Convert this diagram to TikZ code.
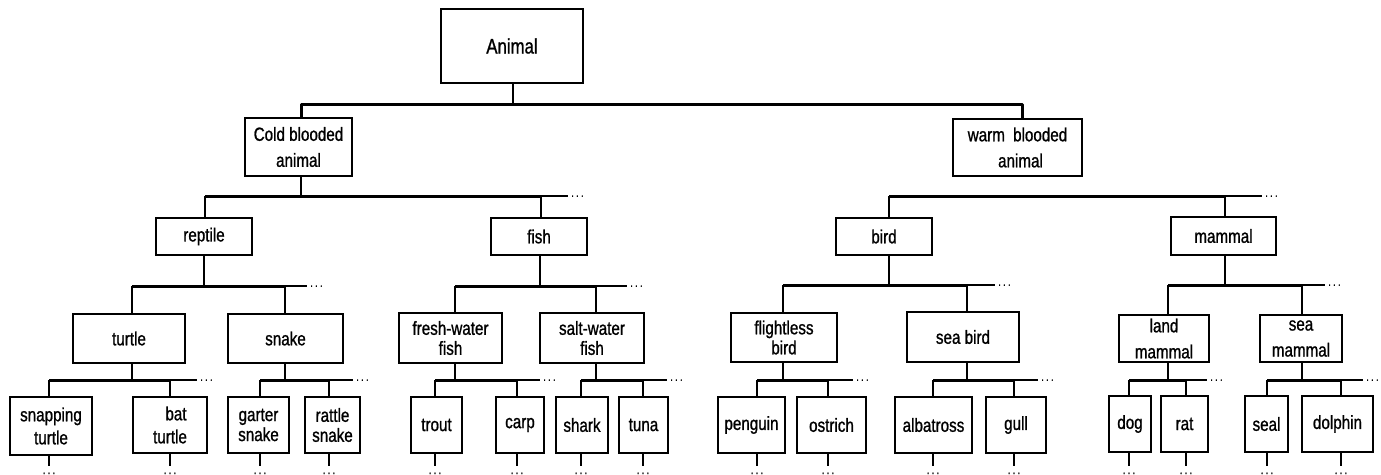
\documentclass[tikz,border=0pt]{standalone}
\usepackage{fontspec}
\setmainfont[FakeStretch=0.8,FakeBold=1]{Liberation Sans}

% box given by its corners (x1,y1) and (x2,y2), in pixels
\newcommand\mkbox[7][]{%
  \node[box,#1,minimum width={(#5-#3)*1pt},minimum height={(#6-#4)*1pt}]
    (#2) at ({(#3+#5)/2},{(#4+#6)/2}) {#7};}

% the "more siblings" mark
\newcommand\moremark{.\hspace{2.2pt}.\hspace{2.2pt}.}

% parent stem, thick bus, thin tail and trailing dots
% #1 parent, #2 stem x, #3 bus y, #4 bus left, #5 bus right, #6 tail end, #7 name
\newcommand\branch[7]{%
  \coordinate (#7-l) at (#4,#3);
  \coordinate (#7-r) at (#5,#3);
  \coordinate (#7-t) at (#6,#3);
  \coordinate (#7-s) at (#2,#3);
  \draw[stem] (#2,0 |- #1.south) -- (#7-s);
  \draw[bus] (#7-l) -- (#7-r);
  \draw[tail] (#7-r) -- (#7-t);
  \node[more,anchor=base west] (#7-dots) at ([xshift=3pt,yshift=-0.8pt]#7-t) {\moremark};}

% child stem from a bus down to the top of a box: #1 child, #2 x, #3 bus y
\newcommand\drop[3]{\draw[stem] (#2,#3) -- (#2,0 |- #1.north);}

% open end below a leaf box: #1 leaf, #2 x
\newcommand\leafend[2]{%
  \coordinate (#1-e) at (#2,466);
  \draw[stem] (#2,0 |- #1.south) -- (#1-e);
  \node[more,anchor=base] (#1-dots) at (#2,474) {\moremark};}

\begin{document}
\begin{tikzpicture}[x=1pt,y=-1pt,
  box/.style={draw,line width=1.5pt,inner sep=0pt,align=center,
    font=\fontsize{19}{26}\selectfont},
  tight/.style={font=\fontsize{19}{20}\selectfont},
  bus/.style={line width=3pt},
  tail/.style={line width=1.4pt},
  stem/.style={line width=2pt},
  more/.style={inner sep=0pt,font=\fontsize{12}{12}\selectfont}]
\useasboundingbox[fill=white] (0,0) rectangle (1381,474);

% ---- root
\mkbox[font=\fontsize{21}{24}\selectfont]{animal}{441}{9}{583}{83}{Animal}

% ---- first split
\mkbox{cold}{245}{118}{352}{176}{Cold blooded\\animal}
\mkbox{warm}{953}{119}{1082}{176}{warm\hspace{4pt} blooded\\\hspace*{6pt}animal}
\coordinate (top-l) at (301,104);
\coordinate (top-r) at (1022,104);
\coordinate (top-s) at (513,104);
\draw[stem] (animal.south -| top-s) -- (top-s);
\draw[bus,line join=round] (301,0 |- cold.north) -- (top-l) -- (top-r) -- (1022,0 |- warm.north);

% ---- classes
\mkbox{reptile}{156}{218}{252}{255}{reptile}
\mkbox{fish}{491}{218}{587}{255}{fish}
\mkbox{bird}{836}{218}{932}{255}{bird}
\mkbox{mammal}{1171}{217}{1276}{255}{mammal}

\branch{cold}{301}{196}{205}{541}{568}{bcold}
\drop{reptile}{205}{196}
\drop{fish}{541}{196}

% the warm blooded bus has no stem of its own
\coordinate (bwarm-l) at (889,196);
\coordinate (bwarm-r) at (1225,196);
\coordinate (bwarm-t) at (1262,196);
\draw[bus] (bwarm-l) -- (bwarm-r);
\draw[tail] (bwarm-r) -- (bwarm-t);
\node[more,anchor=base west] (bwarm-dots) at ([xshift=3pt,yshift=-0.8pt]bwarm-t) {\moremark};
\drop{bird}{889}{196}
\drop{mammal}{1225}{196}

% ---- groups
\mkbox{turtle}{73}{314}{185}{363}{turtle}
\mkbox{snake}{228}{314}{343}{363}{snake}
\mkbox[tight]{fresh}{399}{313}{502}{363}{fresh-water\\fish}
\mkbox[tight]{salt}{540}{313}{644}{363}{salt-water\\fish}
\mkbox[tight]{flightless}{731}{313}{837}{362}{flightless\\bird}
\mkbox{seabird}{907}{312}{1019}{362}{sea bird}
\mkbox{land}{1119}{315}{1209}{362}{land\\mammal}
\mkbox{seamammal}{1260}{315}{1342}{362}{sea\\mammal}

\branch{reptile}{204}{286}{132}{285}{307}{brep}
\drop{turtle}{132}{286}
\drop{snake}{285}{286}
\branch{fish}{540}{286}{455}{596}{627}{bfish}
\drop{fresh}{455}{286}
\drop{salt}{596}{286}
\branch{bird}{889}{285}{783}{967}{995}{bbird}
\drop{flightless}{783}{285}
\drop{seabird}{967}{285}
\branch{mammal}{1225}{285}{1168}{1302}{1325}{bmam}
\drop{land}{1168}{285}
\drop{seamammal}{1302}{285}

% ---- species
\mkbox[font=\fontsize{19}{23}\selectfont]{snapping}{10}{397}{92}{455}{snapping\\turtle}
\mkbox[font=\fontsize{19}{23}\selectfont]{bat}{133}{397}{207}{453}{\hspace*{12pt}bat\\turtle}
\mkbox[tight]{garter}{228}{397}{289}{453}{garter\\snake}
\mkbox[tight]{rattle}{305}{397}{360}{453}{rattle\\snake}
\mkbox{trout}{411}{397}{462}{453}{trout}
\mkbox{carp}{496}{397}{544}{453}{carp}
\mkbox{shark}{556}{397}{608}{453}{shark}
\mkbox{tuna}{619}{397}{668}{453}{tuna}
\mkbox{penguin}{718}{397}{785}{453}{penguin}
\mkbox{ostrich}{797}{397}{866}{453}{ostrich}
\mkbox{albatross}{895}{397}{972}{453}{albatross}
\mkbox{gull}{986}{397}{1046}{453}{gull}
\mkbox{dog}{1109}{396}{1151}{452}{dog}
\mkbox{rat}{1161}{396}{1208}{452}{rat}
\mkbox{seal}{1245}{396}{1288}{452}{seal}
\mkbox{dolphin}{1302}{396}{1373}{452}{dolphin}

\branch{turtle}{132}{380}{49}{170}{197}{bturtle}
\drop{snapping}{49}{380}
\drop{bat}{170}{380}
\branch{snake}{285}{380}{260}{329}{353}{bsnake}
\drop{garter}{260}{380}
\drop{rattle}{329}{380}
\branch{fresh}{455}{380}{435}{517}{540}{bfresh}
\drop{trout}{435}{380}
\drop{carp}{517}{380}
\branch{salt}{596}{380}{581}{643}{667}{bsalt}
\drop{shark}{581}{380}
\drop{tuna}{643}{380}
\branch{flightless}{783}{380}{757}{828}{853}{bflight}
\drop{penguin}{757}{380}
\drop{ostrich}{828}{380}
\branch{seabird}{967}{380}{933}{1014}{1038}{bsea}
\drop{albatross}{933}{380}
\drop{gull}{1014}{380}
\branch{land}{1168}{380}{1129}{1186}{1207}{bland}
\drop{dog}{1129}{380}
\drop{rat}{1186}{380}
\branch{seamammal}{1302}{380}{1267}{1341}{1363}{bseam}
\drop{seal}{1267}{380}
\drop{dolphin}{1341}{380}

\leafend{snapping}{49}
\leafend{bat}{170}
\leafend{garter}{260}
\leafend{rattle}{329}
\leafend{trout}{435}
\leafend{carp}{517}
\leafend{shark}{581}
\leafend{tuna}{643}
\leafend{penguin}{757}
\leafend{ostrich}{828}
\leafend{albatross}{933}
\leafend{gull}{1014}
\leafend{dog}{1129}
\leafend{rat}{1186}
\leafend{seal}{1267}
\leafend{dolphin}{1341}
\end{tikzpicture}
\end{document}
